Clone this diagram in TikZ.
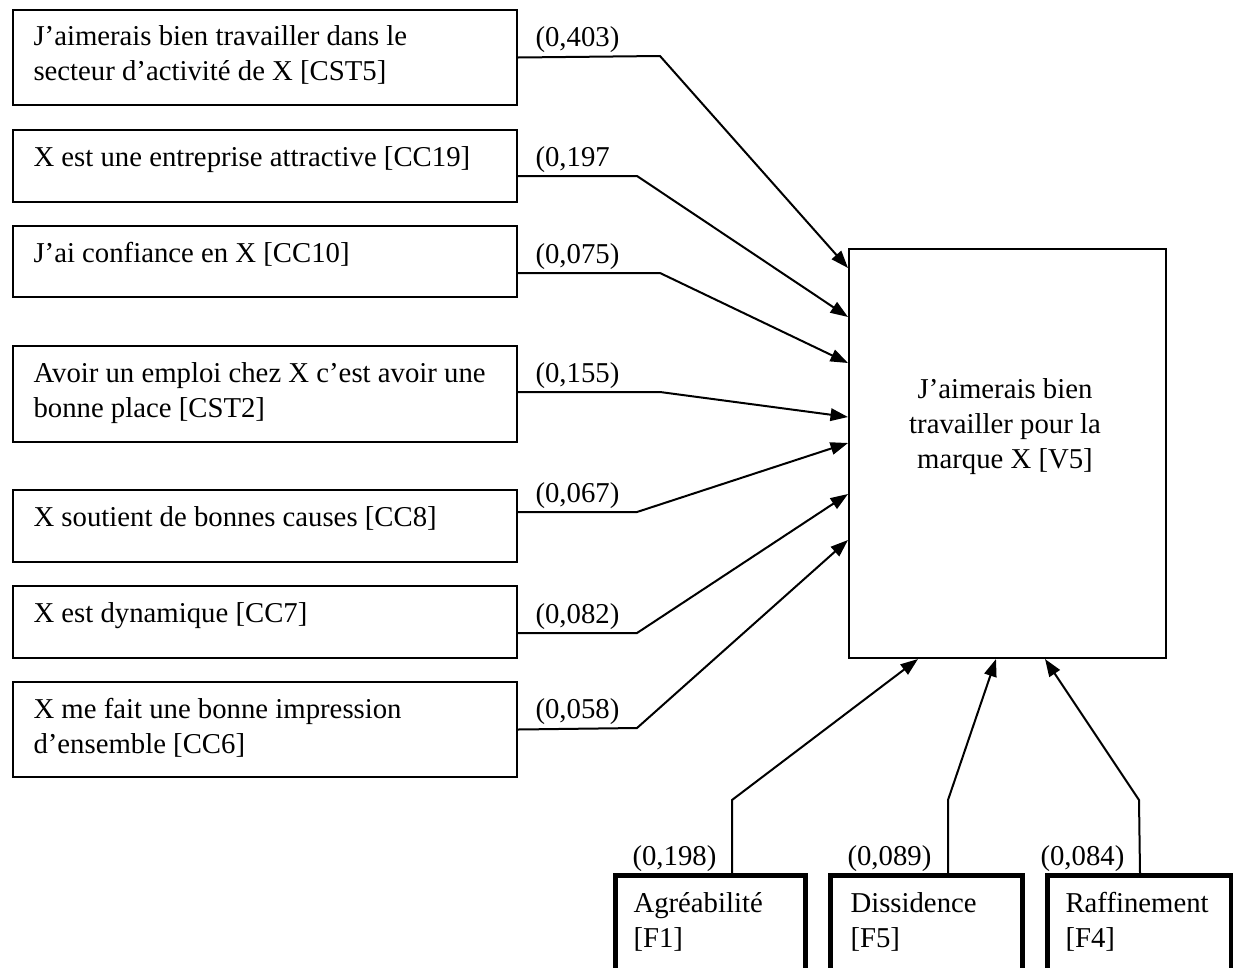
\documentclass[tikz,border=0pt]{standalone}
\usepackage{fontspec}
\setmainfont{Liberation Serif}
\usetikzlibrary{arrows.meta,calc}

\begin{document}
\begin{tikzpicture}[x=0.4pt,y=-0.4pt,
  every node/.style={font=\fontsize{11.5}{14}\selectfont},
  itembox/.style={draw,line width=0.8pt,anchor=north west,inner sep=0pt,minimum width=201.6pt},
  itemtext/.style={anchor=base west,align=left,inner sep=0pt},
  factorbox/.style={draw,line width=1.8pt,anchor=north west,inner sep=0pt,minimum height=48pt},
  coef/.style={anchor=base west,inner sep=0pt},
  conn/.style={line width=0.8pt,-{Triangle[length=7pt,width=5pt]}}]

\useasboundingbox (0,0) rectangle (1233,967);
\clip (0,0) rectangle (1233,967);
\fill[white] (0,0) rectangle (1233,967);

% predictor items on the left
\node[itembox,minimum height=38pt]   (b1) at (12,9)   {};
\node[itembox,minimum height=28.8pt] (b2) at (12,129) {};
\node[itembox,minimum height=28.4pt] (b3) at (12,225) {};
\node[itembox,minimum height=38.4pt] (b4) at (12,345) {};
\node[itembox,minimum height=28.8pt] (b5) at (12,489) {};
\node[itembox,minimum height=28.8pt] (b6) at (12,585) {};
\node[itembox,minimum height=38pt]   (b7) at (12,681) {};

% texts are placed by the baseline of their last line
\node[itemtext] (t1) at ($(b1.north west)+(21,71)$) {J’aimerais bien travailler dans le\\secteur d’activité de X [CST5]};
\node[itemtext] (t2) at ($(b2.north west)+(21,37)$) {X est une entreprise attractive [CC19]};
\node[itemtext] (t3) at ($(b3.north west)+(21,37)$) {J’ai confiance en X [CC10]};
\node[itemtext] (t4) at ($(b4.north west)+(21,72)$) {Avoir un emploi chez X c’est avoir une\\bonne place [CST2]};
\node[itemtext] (t5) at ($(b5.north west)+(21,37)$) {X soutient de bonnes causes [CC8]};
\node[itemtext] (t6) at ($(b6.north west)+(21,37)$) {X est dynamique [CC7]};
\node[itemtext] (t7) at ($(b7.north west)+(21,72)$) {X me fait une bonne impression\\d’ensemble [CC6]};

% outcome
\node[draw,line width=0.8pt,anchor=north west,inner sep=0pt,minimum width=126.8pt,minimum height=163.6pt] (v5) at (848,248) {};
\node[align=center,inner sep=0pt,anchor=base] (tv5) at (1005,468) {J’aimerais bien\\travailler pour la\\marque X [V5]};

% personality factors below
\node[factorbox,minimum width=76pt]   (f1) at (613,873)  {};
\node[factorbox,minimum width=76.8pt] (f5) at (828,873)  {};
\node[factorbox,minimum width=73.6pt] (f4) at (1045,873) {};

\node[itemtext] (tf1) at ($(f1.north west)+(20,74)$) {Agréabilité\\{}[F1]};
\node[itemtext] (tf5) at ($(f5.north west)+(22,74)$) {Dissidence\\{}[F5]};
\node[itemtext] (tf4) at ($(f4.north west)+(20,74)$) {Raffinement\\{}[F4]};

% bend points of the connectors
\coordinate (k1) at (660,56);
\coordinate (k2) at (637,176);
\coordinate (k3) at (660,273);
\coordinate (k4) at (660,392);
\coordinate (k5) at (637,512);
\coordinate (k6) at (637,633);
\coordinate (k7) at (637,728);
\coordinate (m1) at (732,800);
\coordinate (m5) at (948,800);
\coordinate (m4) at (1139,800);

% paths into the outcome box
\draw[conn] (b1.east) -- (k1) -- ($(v5.north west)+(0,20)$);
\draw[conn] ($(b2.north east)+(0,47)$) -- (k2) -- ($(v5.north west)+(0,69)$);
\draw[conn] ($(b3.north east)+(0,48)$) -- (k3) -- ($(v5.north west)+(0,115)$);
\draw[conn] ($(b4.north east)+(0,47)$) -- (k4) -- ($(v5.north west)+(0,169)$);
\draw[conn] ($(b5.north east)+(0,23)$) -- (k5) -- ($(v5.north west)+(0,195)$);
\draw[conn] ($(b6.north east)+(0,48)$) -- (k6) -- ($(v5.north west)+(0,246)$);
\draw[conn] (b7.east) -- (k7) -- ($(v5.north west)+(0,292)$);

\draw[conn] ($(f1.north west)+(119,0)$) -- (m1) -- ($(v5.south west)+(70,0)$);
\draw[conn] ($(f5.north west)+(120,0)$) -- (m5) -- ($(v5.south west)+(148,0)$);
\draw[conn] ($(f4.north west)+(95,0)$) -- (m4) -- ($(v5.south west)+(197,0)$);

% path coefficients
\node[coef] (w1) at (535,46)  {(0,403)};
\node[coef] (w2) at (535,166) {(0,197};
\node[coef] (w3) at (535,263) {(0,075)};
\node[coef] (w4) at (535,382) {(0,155)};
\node[coef] (w5) at (535,502) {(0,067)};
\node[coef] (w6) at (535,623) {(0,082)};
\node[coef] (w7) at (535,718) {(0,058)};
\node[coef] (wf1) at (632,865)  {(0,198)};
\node[coef] (wf5) at (847,865)  {(0,089)};
\node[coef] (wf4) at (1040,865) {(0,084)};
\end{tikzpicture}
\end{document}
